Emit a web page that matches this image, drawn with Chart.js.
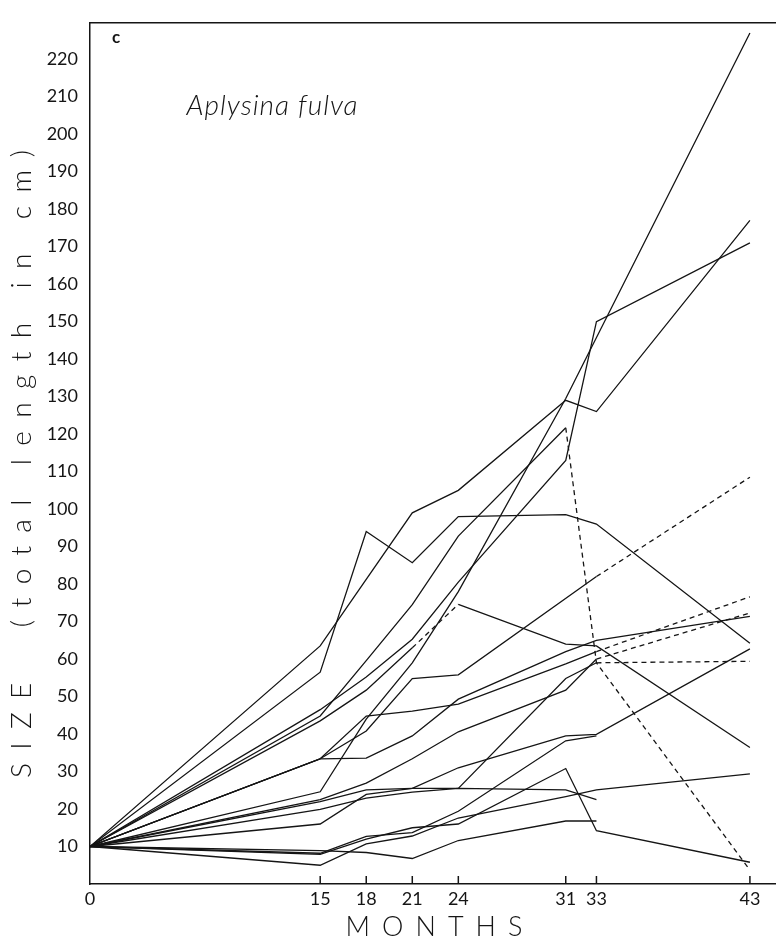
<!DOCTYPE html>
<html>
<head>
<meta charset="utf-8">
<script src="https://cdn.jsdelivr.net/npm/chart.js@4.4.0/dist/chart.umd.min.js"></script>
<style>
  html, body { margin: 0; padding: 0; background: #fff; }
  #wrap { width: 776px; height: 940px; }
</style>
</head>
<body>
<div id="wrap"><canvas id="growthChart" width="776" height="940"></canvas></div>
<script>
// months of observation (x axis ticks)
const months = [0, 15, 18, 21, 24, 31, 33, 43];
const yTicks = [10, 20, 30, 40, 50, 60, 70, 80, 90, 100, 110, 120, 130, 140, 150, 160, 170, 180, 190, 200, 210, 220];

// size (total length in cm) of each sponge, null = no vertex / not measured
const s01 = [10, 63.5, null, 99, 105, 129, 126, 177];
const s02 = [10, 56.5, 94, 85.7, 98, 98.5, 96, 64.2];
const s03 = [10, 24.6, 44, 59, 78, 129.5, null, 227];
const s04 = [10, 46.5, 55.2, 65.3, 80.5, 113, 150, 171];
const s05 = [10, 44.8, 59.6, 74.5, 92.8, 121.7, 59, 3.7];
const s06 = [10, 43.5, 51.7, 63, 74.6, 64, 63.5, 36.4];
const s07 = [10, 33.4, 40.8, 54.8, 55.8, null, 82, 108.5];
const s08 = [10, 33.4, 33.6, 39.5, 49.3, 62, 65, 71.4];
const s09 = [10, 22.5, 26.9, 33.4, 40.6, 51.7, 60, 72.3];
const s10 = [10, 33.4, 44.8, 46.1, 48, 58.7, 62, 76.6];
const s11 = [10, 22, 25.1, 25.5, 25.5, 54.8, 59, 59.4];
const s12 = [10, 19.9, 22.9, 24.5, 25.5, 25.1, 22.5, null];
const s13 = [10, 16, 23.9, 25.5, 31, 39.5, 39.9, 62.7];
const s14 = [10, 8.2, 12.7, 13.7, 19.4, 38.2, 39.5, null];
const s15 = [10, 7.9, 12, 15, 16, 30.8, 14.2, 5.8];
const s16 = [10, 5, 10.7, 12.8, 17.6, 23.3, 25.1, 29.4];
const s17 = [10, 8.9, 8.4, 6.8, 11.6, 16.8, 16.8, null];

const allSeries = [s01, s02, s03, s04, s05, s06, s07, s08, s09, s10, s11, s12, s13, s14, s15, s16, s17];

// segments drawn dashed: month where the dashed segment starts, by series index
const dashedFrom = { 4: [31, 33], 5: [21], 6: [33], 8: [33], 9: [33], 10: [33] };

const INK = '#151515';
const FONT = 'Lato, "Open Sans", "DejaVu Sans", sans-serif';

const datasets = allSeries.map((vals, idx) => ({
    label: 'sponge ' + (idx + 1),
    data: months.map((m, i) => ({ x: m, y: vals[i] })),
    borderColor: INK,
    borderWidth: 1.3,
    pointRadius: 0,
    tension: 0,
    spanGaps: true,
    segment: {
        borderDash: ctx => {
            const list = dashedFrom[idx] || [];
            return list.includes(months[ctx.p0DataIndex]) ? [5, 4] : undefined;
        }
    }
}));

// spread a text so that it covers a given length
function spacedText(ctx, text, x, y, span) {
    ctx.letterSpacing = '0px';
    const w = ctx.measureText(text).width;
    const gap = Math.max(0, (span - w) / (text.length - 1));
    ctx.letterSpacing = gap + 'px';
    ctx.fillText(text, x + gap / 2, y);
    ctx.letterSpacing = '0px';
}

// frame, inner tick marks and the text written on the figure
const decorations = {
    id: 'decorations',
    afterDraw(chart) {
        const { ctx, chartArea } = chart;
        const xs = chart.scales.x;
        ctx.save();
        ctx.strokeStyle = INK;
        ctx.lineWidth = 1.5;
        ctx.beginPath();
        ctx.moveTo(chartArea.left, chartArea.top);
        ctx.lineTo(chartArea.right, chartArea.top);
        months.forEach(m => {
            if (m === 0) return;
            const px = xs.getPixelForValue(m);
            ctx.moveTo(px, chartArea.bottom);
            ctx.lineTo(px, chartArea.bottom - 8);
        });
        ctx.stroke();

        ctx.fillStyle = INK;
        ctx.textBaseline = 'middle';

        ctx.font = 'bold 17px ' + FONT;
        ctx.textAlign = 'left';
        ctx.fillText('c', 112, 38);

        ctx.font = 'italic 300 28px ' + FONT;
        spacedText(ctx, 'Aplysina fulva', 186, 106, 171);

        // x title
        ctx.font = '300 27px ' + FONT;
        ctx.textAlign = 'center';
        spacedText(ctx, 'MONTHS', 434, 927, 177);

        // y title
        ctx.translate(22, 464);
        ctx.rotate(-Math.PI / 2);
        ctx.font = '300 28px ' + FONT;
        spacedText(ctx, 'SIZE  (total length in cm)', 0, 0, 628);
        ctx.restore();
    }
};

const tickFont = { family: FONT, size: 18, weight: '400' };

new Chart(document.getElementById('growthChart'), {
    type: 'line',
    data: { datasets },
    options: {
        responsive: false,
        animation: false,
        layout: { padding: { top: 8, right: 0, bottom: 0, left: 0 } },
        plugins: { legend: { display: false }, tooltip: { enabled: false } },
        scales: {
            x: {
                type: 'linear',
                min: 0,
                max: 44.7,
                grid: { display: false, drawTicks: false },
                border: { color: INK, width: 1.5 },
                afterBuildTicks: s => { s.ticks = months.map(v => ({ value: v })); },
                afterFit: s => { s.height = 56; },
                ticks: { color: INK, font: tickFont, padding: 4, maxRotation: 0, autoSkip: false }
            },
            y: {
                min: 0,
                max: 229.7,
                grid: { display: false, drawTicks: false },
                border: { color: INK, width: 1.5 },
                afterBuildTicks: s => { s.ticks = yTicks.map(v => ({ value: v })); },
                afterFit: s => { s.width = 90; },
                ticks: { color: INK, font: tickFont, padding: 12 }
            }
        }
    },
    plugins: [decorations]
});
</script>
</body>
</html>
